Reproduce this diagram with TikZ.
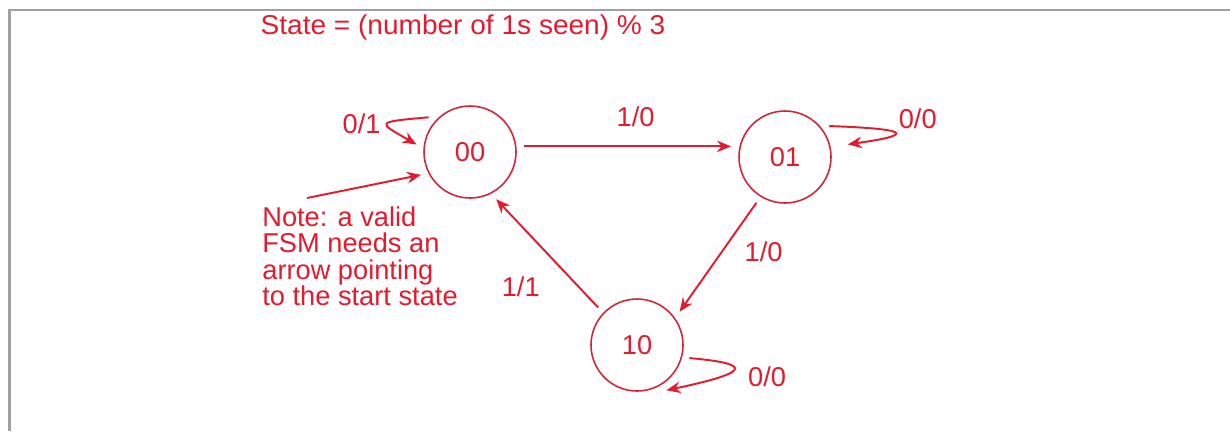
\documentclass[tikz,border=0pt]{standalone}
\usepackage{fontspec}
\setmainfont{Liberation Sans}
\usetikzlibrary{arrows.meta, positioning}

\definecolor{fsmred}{RGB}{228,26,46}
\definecolor{circred}{RGB}{212,36,58}
\definecolor{framegray}{RGB}{160,160,160}

\begin{document}
\begin{tikzpicture}[
        state/.style={draw=circred, circle, minimum size=1.84cm, line width=0.9pt, outer sep=0.16cm, text=fsmred, font=\fontsize{15.5}{15}\selectfont},
        trans/.style={draw=fsmred, line width=1.1pt, -{Stealth[length=2.8mm, width=2.3mm]}},
        lbl/.style={text=fsmred, font=\fontsize{15.5}{15}\selectfont}
    ]

    \useasboundingbox (0,0) rectangle (24.6,-8.62);

    % Frame
    \draw[framegray, line width=1.3pt] (0.19,-8.62) -- (0.19,-0.2) -- (24.6,-0.2);

    % Title
    \node[lbl, xscale=1.03] (title) at (9.26,-0.54) {State = (number of 1s seen) \% 3};

    % States - positioned with coordinates
    \node[state] (s00) at (9.40,-3.04) {00};
    \node[state] (s01) at (15.70,-3.14) {01};
    \node[state] (s10) at (12.74,-6.90) {10};

    % Start arrow and note
    \coordinate (start) at (6.14,-3.96);
    \draw[trans] (start) -- (s00.205);
    \node[lbl, align=left, anchor=north west, inner sep=0] (note) at (5.24,-4.13) {Note: a valid\\FSM needs an\\arrow pointing\\to the start state};

    % Transitions
    \draw[trans] (s00.6) -- node[pos=0.54, above=0.26cm, lbl] {1/0} (s00.6 -| s01.west);
    \draw[trans] (s01.238) -- node[pos=0.45, right=0.32cm, lbl] {1/0} (s10.38);
    \draw[trans] (s10.136) -- node[pos=0.35, below left, xshift=-0.32cm, lbl] {1/1} (s00.299);

    % Self loops
    \draw[trans] (s00.140) .. controls +(185:1.1) and +(150:0.9) .. node[pos=0.5, left, lbl] {0/1} (s00.172);
    \draw[trans, shorten >=0.2cm] (s01.35) .. controls +(-2:1.6) and +(8:1.6) .. node[pos=0.45, above right, yshift=-0.08cm, lbl] {0/0} (s01.12);
    \draw[trans] (s10.-14) .. controls +(-5:1.4) and +(12:1.6) .. node[pos=0.5, right, xshift=0.16cm, yshift=-0.14cm, lbl] {0/0} (s10.-57);

\end{tikzpicture}
\end{document}
